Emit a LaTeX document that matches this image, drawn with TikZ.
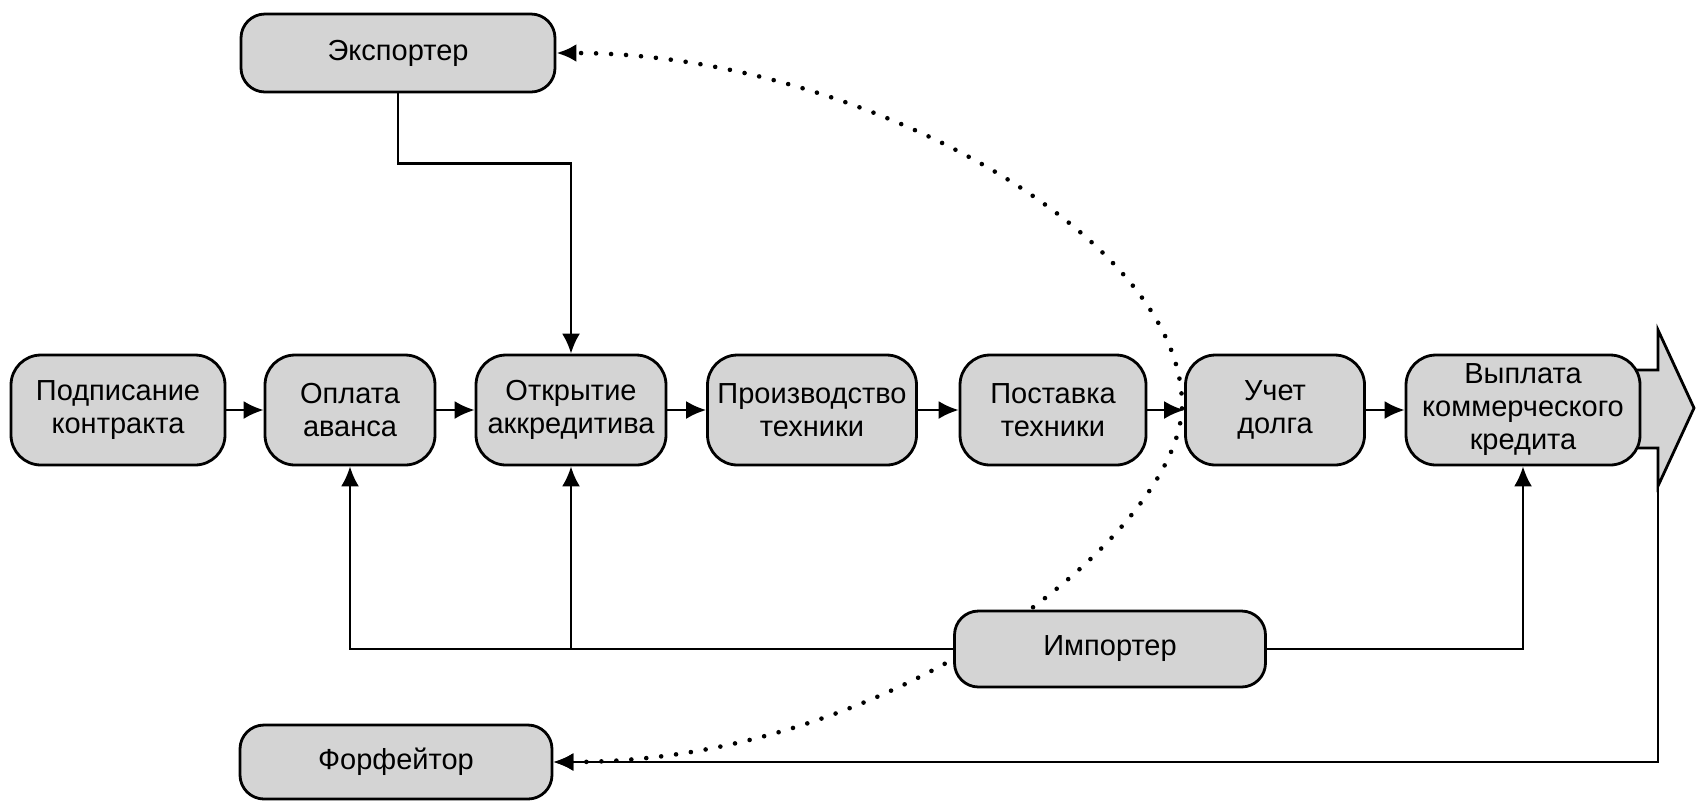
\documentclass[tikz,border=0pt]{standalone}
\usepackage{fontspec}
\setmainfont{Liberation Sans}
\usetikzlibrary{arrows.meta,calc}
\pgfdeclarelayer{background}
\pgfsetlayers{background,main}
\definecolor{boxgray}{RGB}{212,212,212}
\begin{document}
\begin{tikzpicture}[x=0.5pt,y=-0.5pt,
  box/.style={draw=black, line width=1.4pt, fill=boxgray, rounded corners=15pt, align=center, inner sep=0pt, font=\fontsize{14.5}{16.5}\selectfont},
  rowbox/.style={box, minimum height=55pt},
  sidebox/.style={box, rounded corners=12pt},
  conn/.style={draw=black, line width=1.2pt, -{Latex[length=10pt,width=9pt]}},
  dots/.style={draw=black, line width=2.3pt, line cap=round, dash pattern=on 0pt off 7.5pt, {Latex[length=10pt,width=9pt]}-{Latex[length=10pt,width=9pt]}},
  bigarrow/.style={draw=black, line width=1.4pt, fill=boxgray, line join=miter}
]
\useasboundingbox (0,0) rectangle (1696,800);

\node[rowbox, minimum width=107pt] (podp) at (118,410) {Подписание\\контракта};
\node[rowbox, minimum width=85pt] (opl) at (350,410) {Оплата\\аванса};
\node[rowbox, minimum width=95pt] (otkr) at (571,410) {Открытие\\аккредитива};
\node[rowbox, minimum width=104.5pt] (proizv) at (812,410) {Производство\\техники};
\node[rowbox, minimum width=93pt] (post) at (1053,410) {Поставка\\техники};
\node[rowbox, minimum width=89.5pt] (uchet) at (1275,410) {Учет\\долга};
\node[rowbox, minimum width=117pt] (vypl) at (1523,410) {Выплата\\коммерческого\\кредита};
\node[sidebox, minimum width=157pt, minimum height=39pt] (exp) at (398,53) {Экспортер};
\node[sidebox, minimum width=156pt, minimum height=37pt] (forf) at (396,762) {Форфейтор};
\node[sidebox, minimum width=155.5pt, minimum height=38pt] (imp) at (1110,649) {Импортер};

\coordinate (turn) at (1182,405);
\coordinate (arrbot) at (1658,486);

\begin{pgfonlayer}{background}
\draw[bigarrow] (1600,370) -- (1658,370) -- (1658,330) -- (1694,408) -- (arrbot) -- (1658,448) -- (1600,448) -- cycle;
\draw[dots] (forf.east) .. controls +(350,0) and +(0,123) .. (turn) .. controls +(0,-170) and +(300,0) .. (exp.east);
\end{pgfonlayer}

\draw[conn] (podp) -- (opl);
\draw[conn] (opl) -- (otkr);
\draw[conn] (otkr) -- (proizv);
\draw[conn] (proizv) -- (post);
\draw[conn] (post) -- (uchet);
\draw[conn] (uchet) -- (vypl);

\draw[conn] (exp.south) -- ++(0,70) -| (otkr.north);
\draw[conn] (imp.west) -| (opl.south);
\draw[conn] (imp.west -| otkr.south) -- (otkr.south);
\draw[conn] (imp.east) -| (vypl.south);
\draw[conn] (arrbot) |- (forf.east);
\end{tikzpicture}
\end{document}
